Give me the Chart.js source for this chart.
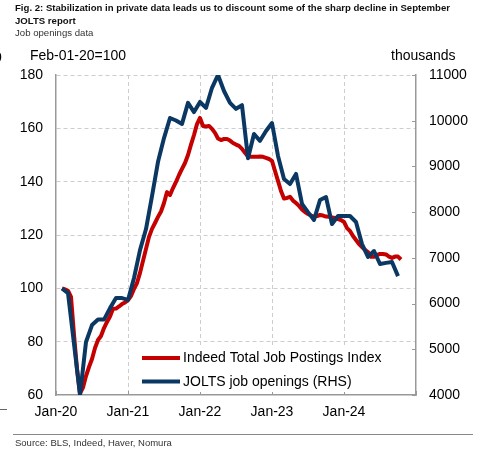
<!DOCTYPE html>
<html>
<head>
<meta charset="utf-8">
<script src="https://cdn.jsdelivr.net/npm/chart.js@4.4.1/dist/chart.umd.min.js"></script>
<style>
  body { margin:0; width:500px; height:458px; overflow:hidden; background:#fff; position:relative;
         font-family:'Liberation Sans', Arial, sans-serif; }
  #wrap { position:absolute; left:0; top:0; width:500px; height:458px; }
  .txt { position:absolute; white-space:nowrap; color:#000; }
</style>
</head>
<body>
<div id="wrap"><canvas id="jobsChart"></canvas></div>

<div class="txt" style="left:15px;top:1px;font-size:9.6px;font-weight:bold;line-height:13px;color:#111;">Fig. 2: Stabilization in private data leads us to discount some of the sharp decline in September<br>JOLTS report</div>
<div class="txt" style="left:15px;top:27px;font-size:9.6px;color:#333;">Job openings data</div>
<div class="txt" style="left:-6px;top:49px;font-size:14px;">0</div>
<div class="txt" style="left:30px;top:47px;font-size:14px;">Feb-01-20=100</div>
<div class="txt" style="left:391px;top:47px;font-size:14px;">thousands</div>
<div style="position:absolute;left:0;top:409px;width:7px;height:1px;background:#666;"></div>
<div style="position:absolute;left:13px;top:434px;width:460px;height:1px;background:#888;"></div>
<div class="txt" style="left:15px;top:437px;font-size:9.5px;color:#333;">Source: BLS, Indeed, Haver, Nomura</div>

<script>
// x axis runs in months from Jan-2020 (0) to Jan-2025 (60)
const xTickLabels = ['Jan-20', 'Jan-21', 'Jan-22', 'Jan-23', 'Jan-24'];

// Indeed Total Job Postings Index, semi-monthly from Feb-01-20
const indeedStart = 1;
const indeedStep = 0.5;
const indeedValues = [
  100.0, 99.6, 99.1, 96.8, 82.6, 69.8, 60.6, 62.8, 67.1, 70.5,
  73.5, 77.6, 80.6, 82.1, 85.1, 87.4, 89.4, 92.3, 92.4, 93.2,
  94.1, 94.7, 95.6, 97.1, 99.8, 102.0, 105.8, 110.3, 114.8, 119.3,
  122.3, 124.5, 126.8, 128.8, 132.0, 136.1, 135.0, 137.6, 139.9, 142.5,
  144.8, 147.0, 150.0, 153.9, 157.5, 161.6, 163.9, 160.9, 160.7, 160.9,
  159.8, 158.3, 156.2, 155.6, 156.0, 156.0, 155.4, 154.5, 153.9, 153.4,
  152.3, 150.8, 149.4, 149.3, 149.3, 149.3, 149.4, 149.3, 148.9, 148.5,
  147.8, 144.0, 140.3, 136.5, 133.7, 133.9, 134.3, 132.9, 132.0, 130.9,
  129.6, 128.6, 127.9, 127.3, 126.9, 127.1, 127.5, 127.3, 126.9, 126.8,
  126.6, 126.4, 126.0, 125.6, 124.9, 122.6, 121.5, 119.6, 118.1, 116.6,
  115.5, 114.4, 113.6, 111.8, 111.8, 112.5, 112.9, 112.9, 112.7, 111.9,
  111.4, 111.9, 111.9, 110.8
];

// JOLTS job openings (thousands), monthly Jan-20 .. Sep-24, plotted at month end
const joltsStart = 1;
const joltsValues = [
  6330, 6230, 5120, 4000, 5160, 5530, 5650, 5650, 5900, 6120,
  6120, 6080, 6560, 7170, 7630, 8350, 9100, 9620, 10060, 10005,
  9930, 10390, 10190, 10410, 10280, 10720, 11000, 10650, 10390, 10260,
  10340, 9180, 9710, 9560, 9775, 9950, 9230, 8725, 8615, 8835,
  8180, 8000, 7830, 8265, 8330, 7740, 7915, 7915, 7915, 7785,
  7300, 7020, 7150, 6865, 6890, 6910, 6600
];

const seriesNames = ['Indeed Total Job Postings Index', 'JOLTS job openings (RHS)'];
const redColor = '#c40000';
const blueColor = '#0b3763';
const gridColor = '#cdcdcd';
const axisColor = '#999999';

const indeedPoints = indeedValues.map((v, i) => ({ x: indeedStart + i * indeedStep, y: v }));
const joltsPoints = joltsValues.map((v, i) => ({ x: joltsStart + i, y: v }));

const frameExtras = {
  id: 'frameExtras',
  afterDraw(chart) {
    const { ctx, chartArea: a, scales } = chart;
    ctx.save();
    // small inward ticks on the right axis and the x axis
    ctx.strokeStyle = axisColor;
    ctx.lineWidth = 1;
    scales.y1.ticks.forEach(t => {
      const y = Math.round(scales.y1.getPixelForValue(t.value)) + 0.5;
      ctx.beginPath(); ctx.moveTo(a.right - 4, y); ctx.lineTo(a.right, y); ctx.stroke();
    });
    scales.x.ticks.forEach(t => {
      const x = Math.round(scales.x.getPixelForValue(t.value)) + 0.5;
      ctx.beginPath(); ctx.moveTo(x, a.bottom - 4); ctx.lineTo(x, a.bottom); ctx.stroke();
    });
    // legend inside the plot, on a white box
    const bx = a.left + 76, by = a.bottom - 49;
    ctx.fillStyle = '#fff';
    ctx.fillRect(bx, by, a.right - bx - 6, 46);
    ctx.font = '14px "Liberation Sans", Arial, sans-serif';
    ctx.textBaseline = 'middle';
    chart.data.datasets.forEach((ds, i) => {
      const y = by + 12 + i * 23.5;
      ctx.strokeStyle = ds.borderColor;
      ctx.lineWidth = 4;
      ctx.beginPath(); ctx.moveTo(bx + 10, y); ctx.lineTo(bx + 48, y); ctx.stroke();
      ctx.fillStyle = '#000';
      ctx.fillText(ds.label, bx + 51, y + 0.5);
    });
    ctx.restore();
  }
};

new Chart(document.getElementById('jobsChart'), {
  type: 'line',
  data: {
    datasets: [
      {
        label: seriesNames[0],
        data: indeedPoints,
        yAxisID: 'y',
        borderColor: redColor,
        borderWidth: 4,
        pointRadius: 0,
        tension: 0,
        borderJoinStyle: 'round',
        order: 1,
        clip: 0
      },
      {
        label: seriesNames[1],
        data: joltsPoints,
        yAxisID: 'y1',
        borderColor: blueColor,
        borderWidth: 4,
        pointRadius: 0,
        tension: 0,
        borderJoinStyle: 'round',
        order: 0,
        clip: 0
      }
    ]
  },
  options: {
    responsive: true,
    maintainAspectRatio: false,
    animation: false,
    layout: { padding: { top: 75, left: 0, right: 0, bottom: 0 } },
    plugins: { legend: { display: false }, tooltip: { enabled: false } },
    scales: {
      x: {
        type: 'linear',
        min: 0,
        max: 60,
        ticks: {
          stepSize: 12,
          autoSkip: false,
          maxRotation: 0,
          padding: 9,
          color: '#000',
          font: { size: 14, family: '"Liberation Sans", Arial, sans-serif' },
          callback: v => xTickLabels[v / 12] || ''
        },
        grid: {
          drawTicks: false,
          lineWidth: 1,
          color: c => (c.tick && c.tick.value > 0 && c.tick.value < 60) ? gridColor : 'rgba(0,0,0,0)'
        },
        border: { display: true, color: axisColor, width: 1.5, dash: [4, 3] },
        afterFit: s => { s.height = 63; }
      },
      y: {
        position: 'left',
        min: 60,
        max: 180,
        ticks: {
          stepSize: 20,
          padding: 13,
          color: '#000',
          font: { size: 14, family: '"Liberation Sans", Arial, sans-serif' }
        },
        grid: {
          drawTicks: false,
          lineWidth: 1,
          color: c => (c.tick && c.tick.value > 60) ? gridColor : 'rgba(0,0,0,0)'
        },
        border: { display: true, color: axisColor, width: 1.5, dash: [4, 3] },
        afterFit: s => { s.width = 56; }
      },
      y1: {
        position: 'right',
        min: 4000,
        max: 11000,
        ticks: {
          stepSize: 1000,
          padding: 13,
          color: '#000',
          font: { size: 14, family: '"Liberation Sans", Arial, sans-serif' },
          callback: v => String(v)
        },
        grid: { drawOnChartArea: false, drawTicks: false },
        border: { display: true, color: axisColor, width: 1.5 },
        afterFit: s => { s.width = 84; }
      }
    }
  },
  plugins: [frameExtras]
});
</script>
</body>
</html>
